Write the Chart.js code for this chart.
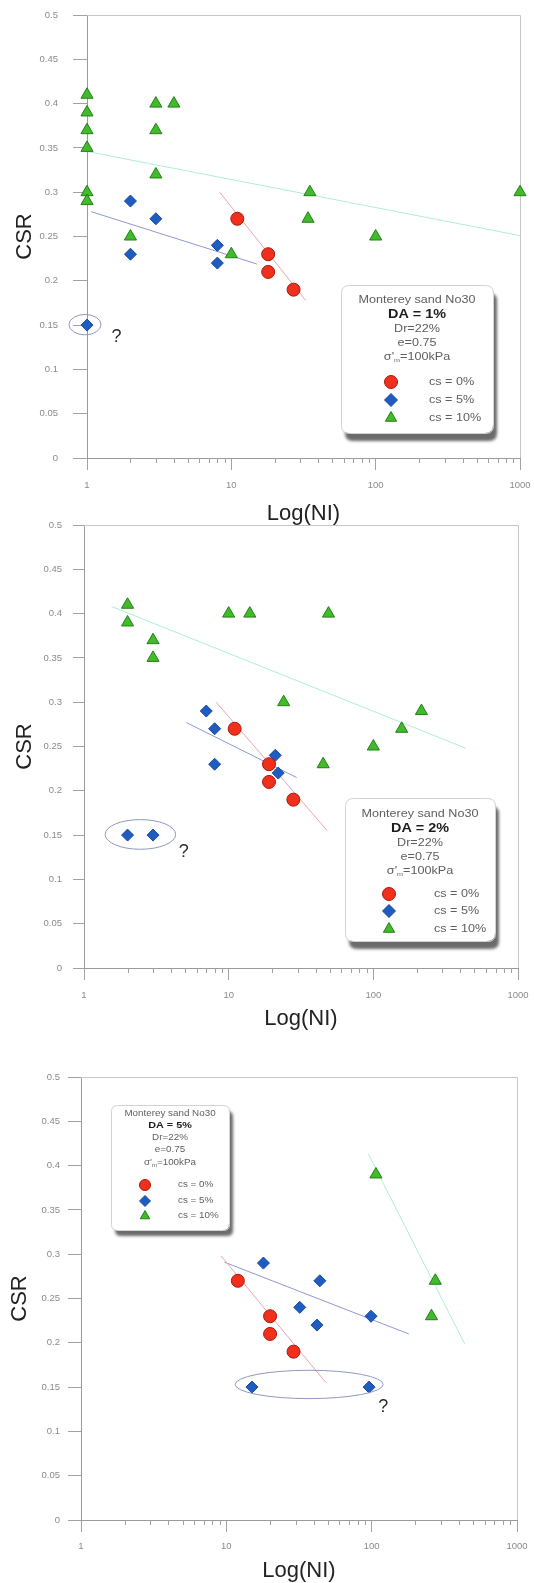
<!DOCTYPE html>
<html>
<head>
<meta charset="utf-8">
<title>CSR vs Log(NI) – Monterey sand No30</title>
<script src="https://cdn.jsdelivr.net/npm/chart.js@4.4.1/dist/chart.umd.min.js"></script>
<style>
  html, body { margin: 0; padding: 0; background: #fff; }
  body { position: relative; width: 534px; height: 1583px; overflow: hidden; }
  .panel { position: absolute; left: 0; width: 534px; }
  .panel canvas { display: block; }
</style>
</head>
<body>
<div class="panel" style="top:0px;height:530px"><canvas id="da1" width="534" height="530"></canvas></div>
<div class="panel" style="top:510px;height:530px"><canvas id="da2" width="534" height="530"></canvas></div>
<div class="panel" style="top:1053px;height:534px"><canvas id="da5" width="534" height="534"></canvas></div>
<script>
// ---------- axes ----------
const Y_TICKS = [0, 0.05, 0.1, 0.15, 0.2, 0.25, 0.3, 0.35, 0.4, 0.45, 0.5];
const Y_TICK_LABELS = ['0', '0.05', '0.1', '0.15', '0.2', '0.25', '0.3', '0.35', '0.4', '0.45', '0.5'];
const X_TICKS = [1, 10, 100, 1000];
const X_TICK_LABELS = ['1', '10', '100', '1000'];
const X_MINOR_TICKS = [2, 3, 4, 5, 6, 7, 8, 9, 20, 30, 40, 50, 60, 70, 80, 90, 200, 300, 400, 500, 600, 700, 800, 900];
const X_TITLE = 'Log(NI)';
const Y_TITLE = 'CSR';

// ---------- legend text ----------
const SERIES_NAMES = ['cs = 0%', 'cs = 5%', 'cs = 10%'];
const SOIL_NAME = 'Monterey sand No30';
const SOIL_DR = 'Dr=22%';
const SOIL_E = 'e=0.75';
const STRESS_VALUE = '=100kPa';
const PANEL_DA = ['DA = 1%', 'DA = 2%', 'DA = 5%'];

// ---------- DA = 1% ----------
const DA1_CS0_N   = [11, 18, 18, 27];
const DA1_CS0_CSR = [0.27, 0.23, 0.21, 0.19];
const DA1_CS5_N   = [2, 3, 2, 8, 8, 1];
const DA1_CS5_CSR = [0.29, 0.27, 0.23, 0.24, 0.22, 0.15];
const DA1_CS10_N   = [1, 1, 1, 1, 1, 1, 3, 4, 3, 3, 2, 10, 35, 34, 100, 1000];
const DA1_CS10_CSR = [0.41, 0.39, 0.37, 0.35, 0.30, 0.29, 0.40, 0.40, 0.37, 0.32, 0.25, 0.23, 0.30, 0.27, 0.25, 0.30];
const DA1_FIT0_N = [8.3, 32.7],  DA1_FIT0_CSR = [0.300, 0.178];
const DA1_FIT5_N = [1.07, 15],   DA1_FIT5_CSR = [0.278, 0.219];
const DA1_FIT10_N = [1, 1000],   DA1_FIT10_CSR = [0.346, 0.251];

// ---------- DA = 2% ----------
const DA2_CS0_N   = [11, 19, 19, 28];
const DA2_CS0_CSR = [0.27, 0.23, 0.21, 0.19];
const DA2_CS5_N   = [7, 8, 8, 21, 22, 2, 3];
const DA2_CS5_CSR = [0.29, 0.27, 0.23, 0.24, 0.22, 0.15, 0.15];
const DA2_CS10_N   = [2, 2, 3, 3, 10, 14, 49, 24, 215, 157, 100, 45];
const DA2_CS10_CSR = [0.41, 0.39, 0.37, 0.35, 0.40, 0.40, 0.40, 0.30, 0.29, 0.27, 0.25, 0.23];
const DA2_FIT0_N = [8.2, 48],    DA2_FIT0_CSR = [0.300, 0.155];
const DA2_FIT5_N = [5.1, 29.5],  DA2_FIT5_CSR = [0.277, 0.215];
const DA2_FIT10_N = [1.55, 436], DA2_FIT10_CSR = [0.408, 0.248];

// ---------- DA = 5% ----------
const DA5_CS0_N   = [12, 20, 20, 29];
const DA5_CS0_CSR = [0.27, 0.23, 0.21, 0.19];
const DA5_CS5_N   = [18, 44, 32, 42, 99, 15, 96];
const DA5_CS5_CSR = [0.29, 0.27, 0.24, 0.22, 0.23, 0.15, 0.15];
const DA5_CS10_N   = [107, 274, 258];
const DA5_CS10_CSR = [0.39, 0.27, 0.23];
const DA5_FIT0_N = [9.2, 48.5],  DA5_FIT0_CSR = [0.298, 0.155];
const DA5_FIT5_N = [9.7, 180],   DA5_FIT5_CSR = [0.291, 0.210];
const DA5_FIT10_N = [95, 436],   DA5_FIT10_CSR = [0.413, 0.199];

// ---------- styles ----------
const FONT = "'Liberation Sans', Arial, Helvetica, sans-serif";
const MARK = {
  cs0:  { style: 'circle',   r: 6.5, fill: '#f0301c', line: '#a8180f' },
  cs5:  { style: 'rectRot',  r: 6,   fill: '#1f5cc2', line: '#174a9c' },
  cs10: { style: 'triangle', r: 7,   fill: '#40bb2a', line: '#257f18' }
};
const FIT_COLOR = { cs0: '#eba4ae', cs5: '#8e98d8', cs10: '#aeeed6' };
const TEXT_STRETCH = 1.2;   // legend lettering is drawn slightly wide

const pts = (xs, ys) => xs.map((x, i) => ({ x: x, y: ys[i] }));

// Frame, minor log ticks, outlier rings, "?" marks and the inset legend box
const decorPlugin = {
  id: 'decor',
  beforeDatasetsDraw(chart) {
    const { ctx, chartArea: a } = chart;
    const xs = chart.scales.x;
    ctx.save();
    ctx.strokeStyle = '#c6c6c6';
    ctx.lineWidth = 1;
    ctx.beginPath();
    ctx.moveTo(a.left, Math.round(a.top) + 0.5);
    ctx.lineTo(Math.round(a.right) + 0.5, Math.round(a.top) + 0.5);
    ctx.lineTo(Math.round(a.right) + 0.5, a.bottom);
    ctx.stroke();
    ctx.strokeStyle = '#a2a2a2';
    ctx.beginPath();
    X_MINOR_TICKS.forEach(v => {
      const px = Math.round(xs.getPixelForValue(v)) + 0.5;
      ctx.moveTo(px, a.bottom);
      ctx.lineTo(px, a.bottom + 5);
    });
    ctx.stroke();
    ctx.restore();
  },
  afterDatasetsDraw(chart, args, o) {
    const { ctx } = chart;
    const xs = chart.scales.x, ys = chart.scales.y;
    ctx.save();
    // rings around the doubtful points
    o.rings.forEach(e => {
      const x1 = xs.getPixelForValue(e.xMin), x2 = xs.getPixelForValue(e.xMax);
      const y1 = ys.getPixelForValue(e.yMax), y2 = ys.getPixelForValue(e.yMin);
      ctx.beginPath();
      ctx.ellipse((x1 + x2) / 2, (y1 + y2) / 2, (x2 - x1) / 2, (y2 - y1) / 2, 0, 0, Math.PI * 2);
      ctx.strokeStyle = '#8f98bd';
      ctx.lineWidth = 1;
      ctx.stroke();
    });
    ctx.fillStyle = '#2a2a2a';
    ctx.font = '18px ' + FONT;
    ctx.textAlign = 'center';
    ctx.textBaseline = 'middle';
    o.marks.forEach(m => {
      ctx.fillText('?', xs.getPixelForValue(m.x), ys.getPixelForValue(m.y));
    });
    drawLegend(ctx, o.legend, o.da);
    ctx.restore();
  }
};

function roundRectPath(ctx, x, y, w, h, r) {
  ctx.beginPath();
  ctx.moveTo(x + r, y);
  ctx.lineTo(x + w - r, y);
  ctx.quadraticCurveTo(x + w, y, x + w, y + r);
  ctx.lineTo(x + w, y + h - r);
  ctx.quadraticCurveTo(x + w, y + h, x + w - r, y + h);
  ctx.lineTo(x + r, y + h);
  ctx.quadraticCurveTo(x, y + h, x, y + h - r);
  ctx.lineTo(x, y + r);
  ctx.quadraticCurveTo(x, y, x + r, y);
  ctx.closePath();
}

function drawMarker(ctx, m, x, y, r) {
  ctx.beginPath();
  if (m.style === 'circle') {
    ctx.arc(x, y, r, 0, Math.PI * 2);
  } else if (m.style === 'rectRot') {
    ctx.moveTo(x - r, y); ctx.lineTo(x, y - r); ctx.lineTo(x + r, y); ctx.lineTo(x, y + r);
    ctx.closePath();
  } else {
    const h = r * 1.5, hw = r * 0.866;
    ctx.moveTo(x, y - r); ctx.lineTo(x + hw, y + h - r); ctx.lineTo(x - hw, y + h - r);
    ctx.closePath();
  }
  ctx.fillStyle = m.fill;
  ctx.fill();
  ctx.strokeStyle = m.line;
  ctx.lineWidth = 1;
  ctx.stroke();
}

// text drawn with a horizontal stretch; align is 'left' or 'center'
function wideText(ctx, text, x, y, font, color, align) {
  ctx.save();
  ctx.font = font;
  ctx.fillStyle = color;
  ctx.textBaseline = 'middle';
  ctx.textAlign = 'left';
  const w = ctx.measureText(text).width * TEXT_STRETCH;
  const x0 = align === 'center' ? x - w / 2 : x;
  ctx.translate(x0, y);
  ctx.scale(TEXT_STRETCH, 1);
  ctx.fillText(text, 0, 0);
  ctx.restore();
  return w;
}

function drawLegend(ctx, L, da) {
  ctx.save();
  ctx.shadowColor = 'rgba(70,70,70,0.8)';
  ctx.shadowBlur = 3;
  ctx.shadowOffsetX = L.sx;
  ctx.shadowOffsetY = L.sy;
  roundRectPath(ctx, L.x, L.y, L.w, L.h, L.r);
  ctx.fillStyle = '#ffffff';
  ctx.fill();
  ctx.restore();
  ctx.save();
  roundRectPath(ctx, L.x + 0.5, L.y + 0.5, L.w, L.h, L.r);
  ctx.strokeStyle = '#d2d2d2';
  ctx.lineWidth = 1;
  ctx.stroke();

  const cx = L.x + L.w / 2;
  const reg = L.fs + 'px ' + FONT;
  const grey = '#5e5e5e';
  wideText(ctx, SOIL_NAME, cx, L.y + L.rows[0], reg, grey, 'center');
  wideText(ctx, da, cx, L.y + L.rows[1], 'bold ' + L.fb + 'px ' + FONT, '#1c1c1c', 'center');
  wideText(ctx, SOIL_DR, cx, L.y + L.rows[2], reg, grey, 'center');
  wideText(ctx, SOIL_E, cx, L.y + L.rows[3], reg, grey, 'center');

  // σ'm=100kPa with a small subscript
  const sy = L.y + L.rows[4];
  const sub = Math.round(L.fs * 0.6) + 'px ' + FONT;
  ctx.font = reg;
  const wSig = ctx.measureText("σ'").width * TEXT_STRETCH;
  const wVal = ctx.measureText(STRESS_VALUE).width * TEXT_STRETCH;
  ctx.font = sub;
  const wSub = ctx.measureText('m').width * TEXT_STRETCH;
  const x0 = cx - (wSig + wSub + wVal) / 2;
  wideText(ctx, "σ'", x0, sy, reg, grey, 'left');
  wideText(ctx, 'm', x0 + wSig, sy + L.fs * 0.35, sub, grey, 'left');
  wideText(ctx, STRESS_VALUE, x0 + wSig + wSub, sy, reg, grey, 'left');

  ['cs0', 'cs5', 'cs10'].forEach((k, i) => {
    const yy = L.y + L.marks[i];
    drawMarker(ctx, MARK[k], L.x + L.mx, yy, L.mr);
    wideText(ctx, SERIES_NAMES[i], L.x + L.tx, yy, reg, grey, 'left');
  });
  ctx.restore();
}

function makeChart(id, D, G) {
  const pointSet = (name, xs, ys, m) => ({
    label: name, data: pts(xs, ys), showLine: false, clip: false,
    pointStyle: m.style, pointRadius: m.r, pointHoverRadius: m.r,
    backgroundColor: m.fill, borderColor: m.line, pointBorderWidth: 1
  });
  const fitSet = (name, xs, ys, c) => ({
    label: name, data: pts(xs, ys), showLine: true, pointRadius: 0,
    borderColor: c, borderWidth: 1, fill: false
  });
  return new Chart(document.getElementById(id), {
    type: 'scatter',
    data: {
      datasets: [
        pointSet(SERIES_NAMES[0], D.n0, D.c0, MARK.cs0),
        pointSet(SERIES_NAMES[1], D.n5, D.c5, MARK.cs5),
        pointSet(SERIES_NAMES[2], D.n10, D.c10, MARK.cs10),
        fitSet('trend ' + SERIES_NAMES[0], D.f0n, D.f0c, FIT_COLOR.cs0),
        fitSet('trend ' + SERIES_NAMES[1], D.f5n, D.f5c, FIT_COLOR.cs5),
        fitSet('trend ' + SERIES_NAMES[2], D.f10n, D.f10c, FIT_COLOR.cs10)
      ]
    },
    options: {
      responsive: false,
      animation: false,
      events: [],
      layout: { padding: { top: G.top, right: G.right, left: 0, bottom: 0 } },
      plugins: {
        legend: { display: false },
        tooltip: { enabled: false },
        decor: { rings: D.rings, marks: D.marks, legend: G.legend, da: D.da }
      },
      scales: {
        x: {
          type: 'logarithmic', position: 'bottom', min: 1, max: 1000,
          afterBuildTicks: s => { s.ticks = X_TICKS.map(v => ({ value: v, major: true })); },
          afterFit: s => { s.height = G.xh; s.paddingLeft = 0; s.paddingRight = 0; },
          ticks: {
            autoSkip: false, maxRotation: 0, padding: G.xPad, color: '#8a8a8a',
            font: { family: FONT, size: 9.5 },
            callback: (v, i) => X_TICK_LABELS[i]
          },
          grid: { drawOnChartArea: false, drawTicks: true, tickLength: 12, tickColor: '#a2a2a2' },
          border: { display: true, color: '#9a9a9a', width: 1 },
          title: { display: true, text: X_TITLE, color: '#222', font: { family: FONT, size: 22 }, padding: { top: 0, bottom: G.xtPad } }
        },
        y: {
          type: 'linear', position: 'left', min: 0, max: 0.5,
          afterBuildTicks: s => { s.ticks = Y_TICKS.map(v => ({ value: v })); },
          afterFit: s => { s.width = G.left; s.paddingTop = 0; s.paddingBottom = 0; },
          ticks: {
            padding: G.yPad, color: '#8a8a8a',
            font: { family: FONT, size: 9.5 },
            callback: (v, i) => Y_TICK_LABELS[i]
          },
          grid: { drawOnChartArea: false, drawTicks: true, tickLength: G.yTick, tickColor: '#a2a2a2' },
          border: { display: true, color: '#9a9a9a', width: 1 },
          title: { display: true, text: Y_TITLE, color: '#222', font: { family: FONT, size: 22 }, padding: { top: G.ytPad, bottom: 0 } }
        }
      }
    },
    plugins: [decorPlugin]
  });
}

makeChart('da1', {
  da: PANEL_DA[0],
  n0: DA1_CS0_N, c0: DA1_CS0_CSR, n5: DA1_CS5_N, c5: DA1_CS5_CSR, n10: DA1_CS10_N, c10: DA1_CS10_CSR,
  f0n: DA1_FIT0_N, f0c: DA1_FIT0_CSR, f5n: DA1_FIT5_N, f5c: DA1_FIT5_CSR, f10n: DA1_FIT10_N, f10c: DA1_FIT10_CSR,
  rings: [{ xMin: 0.75, xMax: 1.25, yMin: 0.139, yMax: 0.162 }],
  marks: [{ x: 1.6, y: 0.137 }]
}, {
  top: 15, right: 14, left: 87, xh: 72, xPad: 10, xtPad: 3, yPad: 15, yTick: 14, ytPad: 12,
  legend: { x: 341, y: 285, w: 152, h: 148, r: 8, sx: 4, sy: 8, fs: 10.5, fb: 12,
            rows: [15, 30, 44, 58, 72], marks: [97, 115, 133], mx: 50, tx: 88, mr: 6.5 }
});

makeChart('da2', {
  da: PANEL_DA[1],
  n0: DA2_CS0_N, c0: DA2_CS0_CSR, n5: DA2_CS5_N, c5: DA2_CS5_CSR, n10: DA2_CS10_N, c10: DA2_CS10_CSR,
  f0n: DA2_FIT0_N, f0c: DA2_FIT0_CSR, f5n: DA2_FIT5_N, f5c: DA2_FIT5_CSR, f10n: DA2_FIT10_N, f10c: DA2_FIT10_CSR,
  rings: [{ xMin: 1.40, xMax: 4.3, yMin: 0.134, yMax: 0.1675 }],
  marks: [{ x: 4.9, y: 0.131 }]
}, {
  top: 15, right: 16, left: 84, xh: 72, xPad: 10, xtPad: 8, yPad: 11, yTick: 11, ytPad: 12,
  legend: { x: 345, y: 288, w: 150, h: 143, r: 8, sx: 4, sy: 8, fs: 10.5, fb: 12,
            rows: [16, 31, 45, 59, 73], marks: [96, 113, 131], mx: 44, tx: 89, mr: 6.5 }
});

makeChart('da5', {
  da: PANEL_DA[2],
  n0: DA5_CS0_N, c0: DA5_CS0_CSR, n5: DA5_CS5_N, c5: DA5_CS5_CSR, n10: DA5_CS10_N, c10: DA5_CS10_CSR,
  f0n: DA5_FIT0_N, f0c: DA5_FIT0_CSR, f5n: DA5_FIT5_N, f5c: DA5_FIT5_CSR, f10n: DA5_FIT10_N, f10c: DA5_FIT10_CSR,
  rings: [{ xMin: 11.5, xMax: 120, yMin: 0.137, yMax: 0.169 }],
  marks: [{ x: 120, y: 0.127 }]
}, {
  top: 24, right: 17, left: 81, xh: 67, xPad: 9, xtPad: 3, yPad: 8, yTick: 13, ytPad: 7,
  legend: { x: 111, y: 52, w: 118, h: 125, r: 6, sx: 4, sy: 6, fs: 8.2, fb: 9,
            rows: [9, 21, 33, 45, 58], marks: [80, 96, 111], mx: 34, tx: 67, mr: 5.5 }
});
</script>
</body>
</html>
